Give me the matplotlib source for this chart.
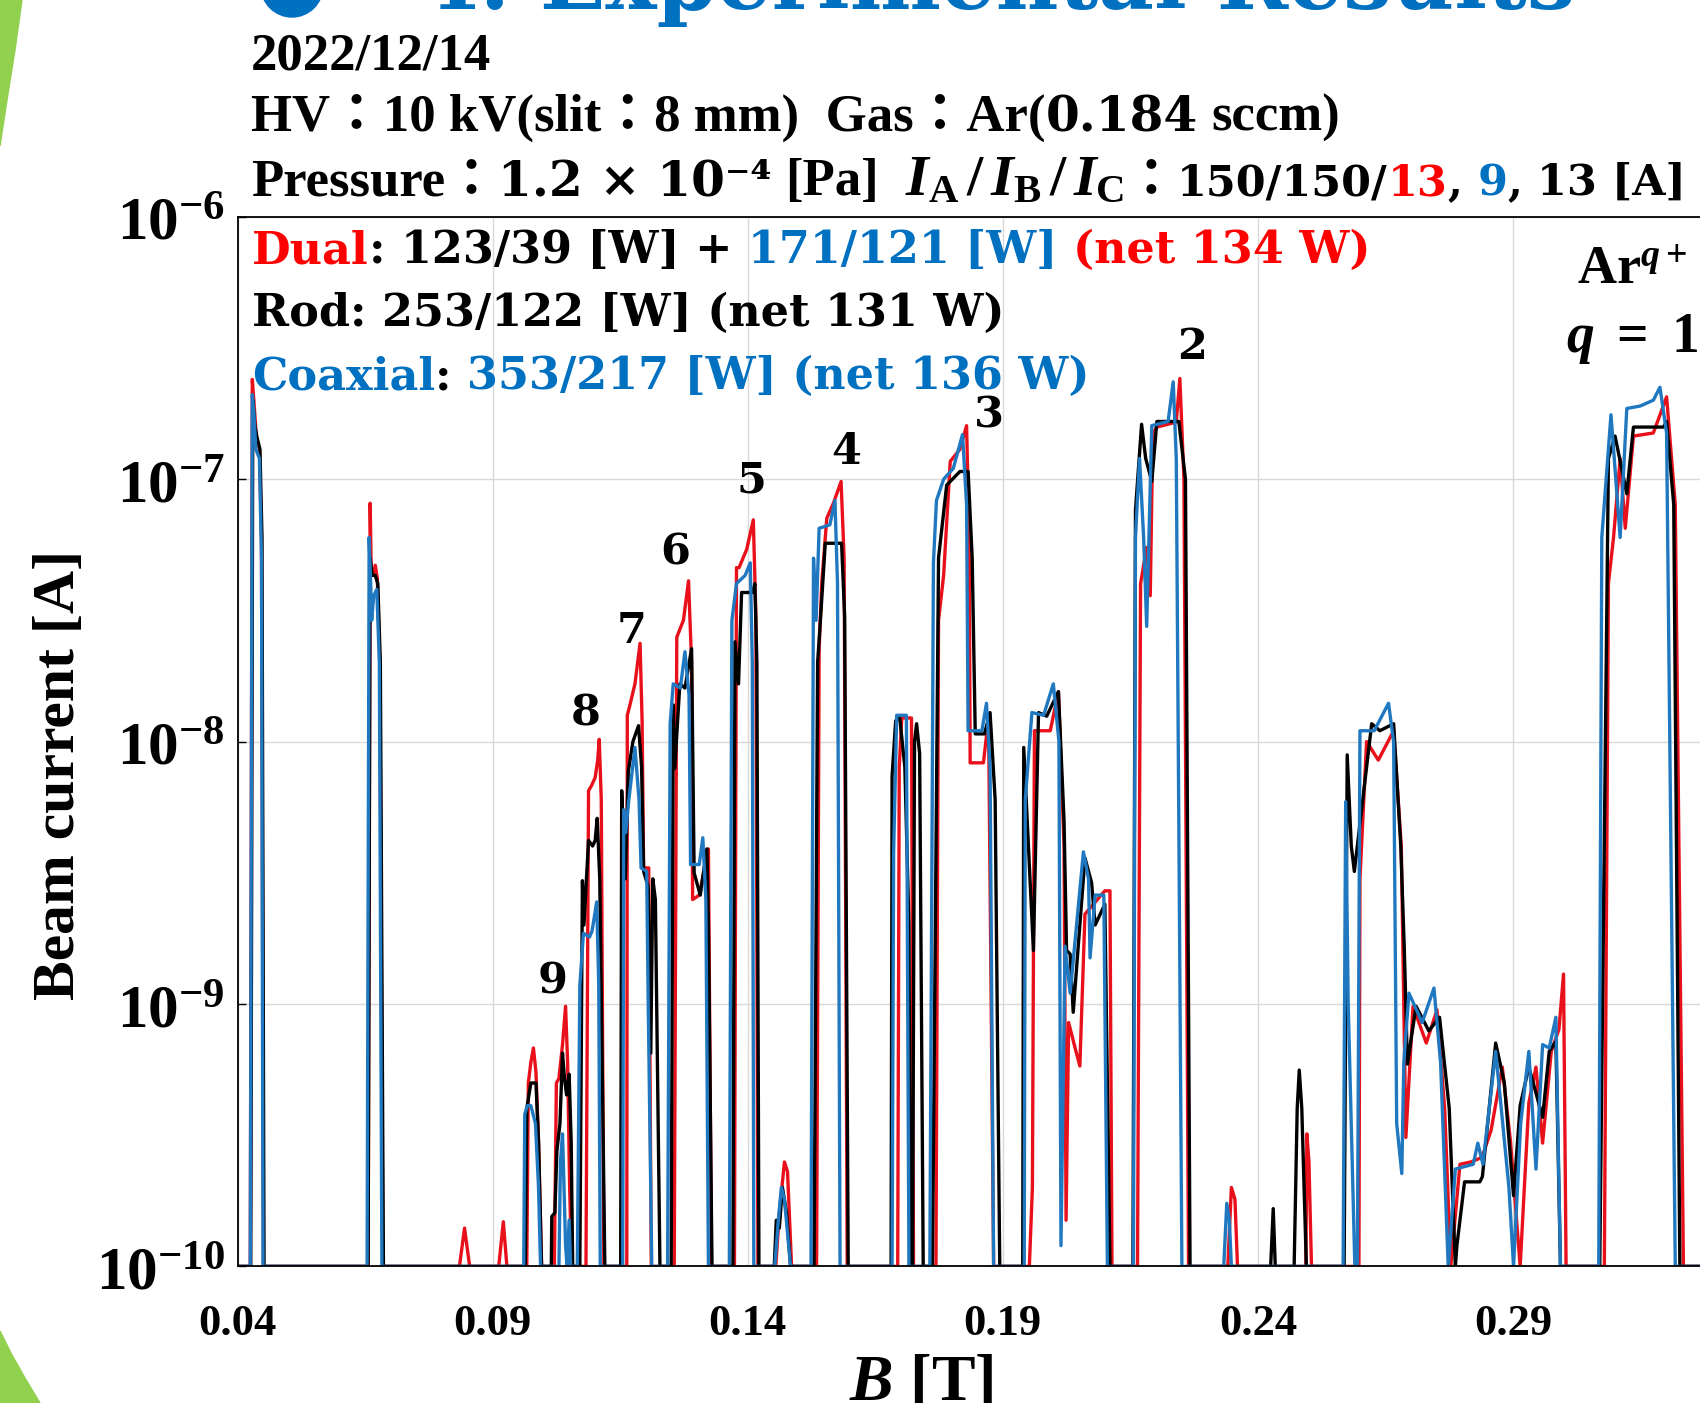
import matplotlib
matplotlib.use('Agg')
import matplotlib.pyplot as plt
from matplotlib.patches import Polygon, Ellipse
from matplotlib.ticker import NullLocator

plt.rcParams['mathtext.fontset'] = 'custom'
plt.rcParams['mathtext.rm'] = 'Liberation Serif:bold'
plt.rcParams['mathtext.it'] = 'Liberation Serif:italic:bold'
plt.rcParams['mathtext.bf'] = 'Liberation Serif:bold'

# ---- data: (B [T], beam current [A]) ----
dual = [(0.0400, 1e-10),
    (0.0425, 1e-10), (0.0429, 2.4e-7), (0.0432, 2.0e-7), (0.0437, 1.45e-7), (0.0443, 1.3e-7), (0.0447, 6e-8), (0.0451, 1e-10),
    (0.0656, 1e-10), (0.0660, 8.1e-8), (0.0662, 4.6e-8), (0.0666, 4.3e-8), (0.0670, 4.7e-8), (0.0674, 4.2e-8), (0.0679, 2e-8), (0.0685, 1e-10),
    (0.0835, 1e-10), (0.0845, 1.4e-10), (0.0855, 1e-10), (0.0912, 1e-10), (0.0921, 1.48e-10), (0.0928, 1e-10),
    (0.0967, 1e-10), (0.0970, 5.0e-10), (0.0975, 6.0e-10), (0.0980, 6.8e-10), (0.0985, 5.5e-10), (0.0990, 3e-10), (0.0996, 1e-10),
    (0.1021, 1e-10), (0.1025, 5.0e-10), (0.1030, 5.2e-10), (0.1037, 7e-10), (0.1043, 9.8e-10), (0.1047, 6e-10), (0.1051, 2e-10), (0.1055, 1e-10),
    (0.1083, 1e-10), (0.1088, 6.5e-9), (0.1094, 6.8e-9), (0.1101, 7.3e-9), (0.1106, 8.5e-9), (0.1109, 1.02e-8), (0.1113, 6e-9), (0.1118, 1e-10),
    (0.1163, 1e-10), (0.1164, 1.26e-8), (0.1170, 1.4e-8), (0.1179, 1.66e-8), (0.1189, 2.37e-8), (0.1193, 1.2e-8), (0.1196, 3.3e-9), (0.1206, 3.3e-9), (0.1211, 1e-10),
    (0.1256, 1e-10), (0.1261, 2.5e-8), (0.1274, 2.9e-8), (0.1284, 4.1e-8), (0.1290, 2e-8), (0.1292, 2.5e-9), (0.1305, 2.6e-9), (0.1323, 3.9e-9), (0.1329, 1e-10),
    (0.1374, 1e-10), (0.1378, 4.6e-8), (0.1383, 4.6e-8), (0.1398, 5.4e-8), (0.1411, 7.0e-8), (0.1416, 3e-8), (0.1420, 1e-10),
    (0.1455, 1e-10), (0.1462, 1.6e-10), (0.1472, 2.5e-10), (0.1478, 2.3e-10), (0.1486, 1e-10),
    (0.1535, 1e-10), (0.1540, 2.24e-8), (0.1545, 4e-8), (0.1555, 7.1e-8), (0.1568, 8.1e-8), (0.1583, 9.8e-8), (0.1589, 5e-8), (0.1595, 1e-10),
    (0.1694, 1e-10), (0.1697, 8e-9), (0.1702, 1.23e-8), (0.1721, 1.23e-8), (0.1725, 1e-10),
    (0.1769, 1e-10), (0.1774, 2.9e-8), (0.1784, 4.3e-8), (0.1797, 1.17e-7), (0.1816, 1.3e-7), (0.1829, 1.6e-7), (0.1834, 6e-8), (0.1836, 8.3e-9), (0.1862, 8.3e-9), (0.1872, 1.23e-8), (0.1882, 1e-10),
    (0.1952, 1e-10), (0.1958, 2e-10), (0.1962, 1.1e-8), (0.1993, 1.1e-8), (0.2009, 1.55e-8), (0.2020, 4e-9), (0.2024, 1.5e-10), (0.2029, 8.5e-10), (0.2040, 7e-10), (0.2051, 5.8e-10), (0.2061, 2.2e-9), (0.2100, 2.7e-9), (0.2110, 2.7e-9), (0.2114, 1e-10),
    (0.2164, 1e-10), (0.2170, 4e-8), (0.2182, 5.5e-8), (0.2189, 3.6e-8), (0.2194, 1.5e-7), (0.2202, 1.58e-7), (0.2240, 1.65e-7), (0.2247, 2.42e-7), (0.2255, 1e-7), (0.2264, 1e-10),
    (0.2341, 1e-10), (0.2348, 2.0e-10), (0.2355, 1.8e-10), (0.2360, 1e-10),
    (0.2494, 1e-10), (0.2496, 3.2e-10), (0.2500, 2.5e-10), (0.2505, 1e-10),
    (0.2598, 1e-10), (0.2600, 3e-9), (0.2613, 1e-8), (0.2636, 8.5e-9), (0.2666, 1.1e-8), (0.2681, 4e-9), (0.2690, 3.1e-10), (0.2700, 7e-10), (0.2704, 9.8e-10), (0.2730, 7.1e-10), (0.2751, 9.5e-10), (0.2766, 4e-10), (0.2778, 1e-10),
    (0.2796, 2.45e-10), (0.2817, 2.5e-10), (0.2839, 2.6e-10), (0.2857, 3.3e-10), (0.2879, 5.75e-10), (0.2895, 3e-10), (0.2914, 1e-10), (0.2931, 4.2e-10), (0.2945, 5.75e-10), (0.2958, 2.95e-10), (0.2975, 6.6e-10), (0.2990, 8e-10), (0.2999, 1.3e-9), (0.3004, 1e-10),
    (0.3079, 1e-10), (0.3087, 4e-8), (0.3097, 6e-8), (0.3110, 1.2e-7), (0.3120, 6.5e-8), (0.3136, 1.46e-7), (0.3175, 1.5e-7), (0.3201, 2.06e-7), (0.3218, 8e-8), (0.3234, 1e-10),
    (0.3350, 1e-10)]

rod = [(0.0400, 1e-10),
    (0.0426, 1e-10), (0.0430, 2.0e-7), (0.0434, 1.6e-7), (0.0438, 1.45e-7), (0.0444, 1.3e-7), (0.0448, 6e-8), (0.0452, 1e-10),
    (0.0656, 1e-10), (0.0660, 5.0e-8), (0.0664, 4.3e-8), (0.0670, 4.3e-8), (0.0675, 4.0e-8), (0.0680, 2e-8), (0.0686, 1e-10),
    (0.0964, 1e-10), (0.0967, 4.0e-10), (0.0975, 5.0e-10), (0.0985, 5.0e-10), (0.0990, 3e-10), (0.0996, 1e-10),
    (0.1015, 1e-10), (0.1016, 1.55e-10), (0.1022, 1.6e-10), (0.1026, 2.75e-10), (0.1032, 3.5e-10), (0.1037, 6.5e-10), (0.1041, 5.2e-10), (0.1045, 4.5e-10), (0.1050, 5.4e-10), (0.1054, 3e-10), (0.1057, 1e-10),
    (0.1071, 1e-10), (0.1076, 2.95e-9), (0.1079, 2.0e-9), (0.1088, 4.2e-9), (0.1096, 4.0e-9), (0.1101, 4.2e-9), (0.1105, 5.1e-9), (0.1110, 3e-9), (0.1120, 1e-10),
    (0.1151, 1e-10), (0.1153, 6.5e-9), (0.1156, 4.5e-9), (0.1160, 3.0e-9), (0.1166, 7.7e-9), (0.1175, 1.0e-8), (0.1186, 1.15e-8), (0.1192, 8e-9), (0.1196, 3.2e-9), (0.1205, 2.8e-9), (0.1210, 6.5e-10), (0.1214, 3.0e-9), (0.1219, 2.5e-9), (0.1228, 1e-10),
    (0.1250, 1e-10), (0.1254, 1.38e-8), (0.1257, 7.9e-9), (0.1267, 1.66e-8), (0.1277, 1.6e-8), (0.1290, 2.26e-8), (0.1295, 3.16e-9), (0.1307, 2.6e-9), (0.1320, 3.9e-9), (0.1323, 2e-9), (0.1330, 1e-10),
    (0.1371, 1e-10), (0.1375, 2.4e-8), (0.1382, 1.66e-8), (0.1388, 3.7e-8), (0.1410, 3.7e-8), (0.1414, 4.0e-8), (0.1418, 2e-8), (0.1422, 1e-10),
    (0.1452, 1e-10), (0.1456, 1.5e-10), (0.1462, 1.4e-10), (0.1468, 2.0e-10), (0.1476, 1.6e-10), (0.1484, 1e-10),
    (0.1530, 1e-10), (0.1537, 2e-8), (0.1543, 3.0e-8), (0.1552, 5.7e-8), (0.1584, 5.7e-8), (0.1590, 3e-8), (0.1597, 1e-10),
    (0.1681, 1e-10), (0.1683, 7.4e-9), (0.1690, 1.2e-8), (0.1698, 1.23e-8), (0.1708, 8e-9), (0.1716, 2e-9), (0.1719, 1e-10), (0.1723, 1e-10), (0.1727, 1.0e-8), (0.1731, 1.17e-8), (0.1737, 9e-9), (0.1744, 1e-10),
    (0.1762, 1e-10), (0.1774, 5e-8), (0.1790, 9.5e-8), (0.1816, 1.07e-7), (0.1832, 1.07e-7), (0.1840, 5e-8), (0.1846, 1.07e-8), (0.1864, 1.07e-8), (0.1875, 1.29e-8), (0.1885, 6e-9), (0.1894, 1e-10),
    (0.1939, 1e-10), (0.1941, 9.5e-9), (0.1960, 1.6e-9), (0.1970, 1.29e-8), (0.1986, 1.25e-8), (0.2009, 1.55e-8), (0.2020, 5e-9), (0.2025, 1.6e-9), (0.2032, 1.55e-9), (0.2038, 9.3e-10), (0.2061, 3.6e-9), (0.2074, 2.9e-9), (0.2081, 2.0e-9), (0.2100, 2.4e-9), (0.2110, 1e-10),
    (0.2155, 1e-10), (0.2160, 7.6e-8), (0.2172, 1.62e-7), (0.2180, 1.2e-7), (0.2192, 9.8e-8), (0.2202, 1.66e-7), (0.2245, 1.66e-7), (0.2258, 1e-7), (0.2267, 1e-10),
    (0.2425, 1e-10), (0.2430, 1.66e-10), (0.2434, 1e-10),
    (0.2471, 1e-10), (0.2477, 4e-10), (0.2481, 5.6e-10), (0.2486, 4e-10), (0.2495, 1e-10),
    (0.2569, 1e-10), (0.2575, 8.9e-9), (0.2583, 4e-9), (0.2589, 3.2e-9), (0.2623, 1.17e-8), (0.2639, 1.1e-8), (0.2666, 1.17e-8), (0.2680, 4e-9), (0.2687, 1.6e-9), (0.2693, 5.9e-10), (0.2710, 9.8e-10), (0.2735, 7.9e-10), (0.2756, 8.9e-10), (0.2775, 4e-10), (0.2787, 1e-10),
    (0.2790, 1.2e-10), (0.2805, 2.1e-10), (0.2835, 2.1e-10), (0.2840, 2.2e-10), (0.2866, 7.1e-10), (0.2883, 5e-10), (0.2901, 1.86e-10), (0.2914, 4.1e-10), (0.2931, 5.75e-10), (0.2958, 3.7e-10), (0.2971, 6.6e-10), (0.2984, 7.2e-10), (0.2993, 1e-10),
    (0.3070, 1e-10), (0.3087, 1.2e-7), (0.3100, 1.46e-7), (0.3123, 8.8e-8), (0.3136, 1.58e-7), (0.3195, 1.58e-7), (0.3201, 1.66e-7), (0.3215, 8e-8), (0.3227, 1e-10),
    (0.3350, 1e-10)]

coax = [(0.0400, 1e-10),
    (0.0425, 1e-10), (0.0429, 2.1e-7), (0.0432, 1.8e-7), (0.0436, 1.3e-7), (0.0443, 1.2e-7), (0.0447, 5e-8), (0.0450, 1e-10),
    (0.0654, 1e-10), (0.0658, 6.0e-8), (0.0661, 4.0e-8), (0.0663, 2.9e-8), (0.0667, 3.6e-8), (0.0673, 3.8e-8), (0.0678, 2e-8), (0.0683, 1e-10),
    (0.0961, 1e-10), (0.0963, 3.8e-10), (0.0968, 4.1e-10), (0.0975, 4.1e-10), (0.0984, 3.5e-10), (0.0990, 2e-10), (0.0994, 1e-10),
    (0.1030, 1e-10), (0.1033, 2.5e-10), (0.1037, 3.2e-10), (0.1040, 2e-10), (0.1043, 1.2e-10), (0.1046, 1e-10), (0.1050, 1.5e-10), (0.1053, 1e-10),
    (0.1066, 1e-10), (0.1071, 1.18e-9), (0.1078, 1.86e-9), (0.1090, 1.8e-9), (0.1095, 1.9e-9), (0.1104, 2.45e-9), (0.1108, 1.2e-9), (0.1111, 1e-10),
    (0.1155, 1e-10), (0.1157, 5.5e-9), (0.1161, 4.5e-9), (0.1167, 6e-9), (0.1179, 9.5e-9), (0.1187, 6e-9), (0.1191, 3.3e-9), (0.1202, 3.2e-9), (0.1205, 1e-9), (0.1212, 1e-10),
    (0.1243, 1e-10), (0.1248, 1.17e-8), (0.1254, 1.66e-8), (0.1268, 1.6e-8), (0.1277, 2.2e-8), (0.1285, 1.5e-8), (0.1288, 3.4e-9), (0.1305, 3.4e-9), (0.1312, 4.3e-9), (0.1318, 2.5e-9), (0.1323, 1e-10),
    (0.1364, 1e-10), (0.1369, 2.9e-8), (0.1378, 4.0e-8), (0.1395, 4.3e-8), (0.1405, 4.8e-8), (0.1409, 2e-8), (0.1412, 1e-10),
    (0.1453, 1e-10), (0.1460, 1.5e-10), (0.1466, 2.0e-10), (0.1472, 1.8e-10), (0.1484, 1e-10),
    (0.1524, 1e-10), (0.1529, 5.0e-8), (0.1534, 2.9e-8), (0.1540, 6.5e-8), (0.1561, 6.7e-8), (0.1571, 8.3e-8), (0.1576, 4e-8), (0.1581, 1e-10),
    (0.1683, 1e-10), (0.1686, 3.8e-9), (0.1692, 1.26e-8), (0.1711, 1.26e-8), (0.1716, 1e-10),
    (0.1757, 1e-10), (0.1764, 4.8e-8), (0.1770, 8.3e-8), (0.1784, 1.0e-7), (0.1803, 1.1e-7), (0.1821, 1.48e-7), (0.1829, 8e-8), (0.1832, 1.1e-8), (0.1859, 1.1e-8), (0.1868, 1.4e-8), (0.1875, 8e-9), (0.1882, 1e-10),
    (0.1942, 1e-10), (0.1944, 6e-9), (0.1957, 1.29e-8), (0.1980, 1.26e-8), (0.1999, 1.66e-8), (0.2010, 1.0e-8), (0.2014, 1.2e-10), (0.2022, 1.66e-9), (0.2032, 1.1e-9), (0.2058, 3.8e-9), (0.2068, 3.0e-9), (0.2071, 1.5e-9), (0.2081, 2.6e-9), (0.2098, 2.6e-9), (0.2105, 1e-10),
    (0.2156, 1e-10), (0.2160, 6e-8), (0.2168, 1.2e-7), (0.2176, 6e-8), (0.2182, 2.75e-8), (0.2192, 1.6e-7), (0.2224, 1.66e-7), (0.2234, 2.35e-7), (0.2240, 1.2e-7), (0.2251, 1e-10),
    (0.2333, 1e-10), (0.2339, 1.74e-10), (0.2344, 1.5e-10), (0.2348, 1e-10),
    (0.2567, 1e-10), (0.2572, 5.9e-9), (0.2577, 1e-9), (0.2590, 1e-10), (0.2595, 1e-10), (0.2600, 1.1e-8), (0.2628, 1.1e-8), (0.2656, 1.4e-8), (0.2666, 1.0e-8), (0.2672, 3.5e-10), (0.2682, 2.26e-10), (0.2686, 6e-10), (0.2696, 1.1e-9), (0.2722, 8.5e-10), (0.2745, 1.15e-9), (0.2758, 6e-10), (0.2773, 1e-10),
    (0.2787, 2.35e-10), (0.2822, 2.45e-10), (0.2831, 2.95e-10), (0.2841, 2.45e-10), (0.2866, 6.6e-10), (0.2892, 2e-10), (0.2901, 1e-10), (0.2915, 3.5e-10), (0.2931, 6.6e-10), (0.2945, 2.35e-10), (0.2958, 7e-10), (0.2971, 6.8e-10), (0.2984, 8.9e-10), (0.2993, 1e-10),
    (0.3068, 1e-10), (0.3074, 6e-8), (0.3092, 1.76e-7), (0.3110, 6.0e-8), (0.3123, 1.86e-7), (0.3149, 1.9e-7), (0.3175, 2.0e-7), (0.3188, 2.24e-7), (0.3201, 1.5e-7), (0.3218, 1e-10),
    (0.3350, 1e-10)]

# charge state labels q and where they sit
charge_states = ['2', '3', '4', '5', '6', '7', '8', '9']
label_b = [0.2270, 0.1873, 0.1594, 0.1407, 0.1258, 0.1173, 0.1082, 0.1018]
label_i = [3.19e-7, 1.75e-7, 1.27e-7, 9.9e-8, 5.24e-8, 2.64e-8, 1.28e-8, 1.22e-9]

xticks = [0.04, 0.09, 0.14, 0.19, 0.24, 0.29]
xtick_labels = ['0.04', '0.09', '0.14', '0.19', '0.24', '0.29']
yticks = [1e-10, 1e-9, 1e-8, 1e-7, 1e-6]
ytick_labels = [r'$10^{-10}$', r'$10^{-9}$', r'$10^{-8}$', r'$10^{-7}$', r'$10^{-6}$']

RED, BLACK, BLUE = '#e8101a', 'black', '#1f78c0'
TXT_RED, TXT_BLUE = '#ff0000', '#0070c0'
W, H = 1700, 1403

fig = plt.figure(figsize=(17, 14.03), dpi=100)
ax = fig.add_axes([237.5 / W, 1 - 1266.4 / H, 1479.6 / W, (1266.4 - 216.8) / H])

for pts, c in [(dual, RED), (rod, BLACK), (coax, BLUE)]:
    b, i = zip(*pts)
    ax.plot(b, i, color=c, lw=2.4, solid_joinstyle='round')

ax.set_yscale('log')
ax.set_xlim(0.04, 0.33)
ax.set_ylim(1e-10, 1e-6)
ax.yaxis.set_minor_locator(NullLocator())
ax.set_xticks(xticks)
ax.set_xticklabels(xtick_labels, fontfamily='Liberation Serif', fontweight='bold', fontsize=32)
ax.set_yticks(yticks)
ax.set_yticklabels(ytick_labels, fontsize=44)
ax.grid(True, color='#d9d9d9', lw=1)
ax.tick_params(direction='in', length=6, width=1)
ax.tick_params(axis='x', pad=27, length=0)
ax.tick_params(axis='y', pad=9)
for s in ax.spines.values():
    s.set_linewidth(1.3)

for q, b, i in zip(charge_states, label_b, label_i):
    ax.text(b, i, q, ha='center', va='center', fontfamily='DejaVu Serif',
            fontweight='bold', fontsize=31)

renderer = fig.canvas.get_renderer()


def put_parts(x_px, y_px, parts, **kw):
    # coloured pieces of one line, laid out left to right on one baseline
    def width(s, style):
        t = fig.text(0, 0, s, **style)
        w = t.get_window_extent(renderer).width
        t.remove()
        return w
    x = x_px
    for part in parts:
        s, c = part[0], part[1]
        style = dict(kw, **(part[2] if len(part) > 2 else {}))
        space = width('a a', style) - width('aa', style)
        x += (len(s) - len(s.lstrip(' '))) * space
        core = s.strip(' ')
        if core:
            t = fig.text(x / W, 1 - y_px / H, core, color=c, va='baseline', ha='left', **style)
            x = t.get_window_extent(renderer).x1
        x += (len(s) - len(s.rstrip(' '))) * space


head = dict(fontfamily=['Liberation Serif', 'Noto Sans CJK JP'], fontweight='bold', fontsize=38)
num = dict(fontfamily='DejaVu Serif', fontsize=35)
num2 = dict(fontfamily='DejaVu Serif', fontsize=31)
put_parts(251, 69, [('2022/12/14', BLACK)], **head)
put_parts(251, 131, [('HV：10 kV(slit：8 mm)  Gas：Ar(', BLACK), ('0.184', BLACK, num),
                     (' sccm)', BLACK)], **head)
put_parts(251, 195, [('Pressure：', BLACK), ('1.2 × 10⁻⁴', BLACK, num), (' [Pa]  ', BLACK),
                     (r'$I_\mathrm{A}\,/\,I_\mathrm{B}\,/\,I_\mathrm{C}$', BLACK, {'fontsize': 42}),
                     ('：', BLACK), ('150/150/', BLACK, num2), ('13', TXT_RED, num2), (',', BLACK, num2),
                     (' 9', TXT_BLUE, num2), (',', BLACK, num2), (' 13 [A]', BLACK, num2)], **head)

inner = dict(fontfamily='DejaVu Serif', fontweight='bold', fontsize=32)
put_parts(252, 263, [('Dual', TXT_RED), (': 123/39 [W] + ', BLACK), ('171/121 [W]', TXT_BLUE),
                     (' (net 134 W)', TXT_RED)], **inner)
put_parts(252, 326, [('Rod: 253/122 [W] (net 131 W)', BLACK)], **inner)
put_parts(252, 389, [('Coaxial', TXT_BLUE), (':', BLACK), (' 353/217 [W] (net 136 W)', TXT_BLUE)], **inner)

fig.text(1577 / W, 1 - 284 / H, r'Ar$^{q+}$', fontfamily='Liberation Serif', fontweight='bold',
         fontsize=39, va='baseline')
fig.text(1566 / W, 1 - 352 / H, r'$q\ =\ 1$', fontsize=40, va='baseline')

fig.text(60 / W, 1 - 775 / H, 'Beam current [A]', rotation=90, ha='center', va='center',
         fontfamily='Liberation Serif', fontweight='bold', fontsize=43)
fig.text(921 / W, 1 - 1399 / H, r'$B$ [T]', ha='center', va='baseline',
         fontfamily='Liberation Serif', fontweight='bold', fontsize=47)

# slide title, mostly cut off at the top edge
fig.text(420 / W, 1 - 9 / H, '4. Experimental Results', color=TXT_BLUE,
         fontfamily='DejaVu Serif', fontweight='bold', fontsize=62, va='baseline')
fig.add_artist(Ellipse((292 / W, 1 + 14 / H), 62 / W, 62 / H, color=TXT_BLUE,
                       transform=fig.transFigure))

# green slide decoration on the left edge
green = '#92d050'
top_arc = [(0, 0), (22, 0), (15, 50), (7, 100), (0, 146)]
bot_arc = [(0, 1331), (12, 1355), (25, 1378), (40, 1403), (0, 1403)]
for arc in (top_arc, bot_arc):
    fig.add_artist(Polygon([(x / W, 1 - y / H) for x, y in arc], closed=True,
                           color=green, transform=fig.transFigure))

fig.savefig('out.png', dpi=100)
